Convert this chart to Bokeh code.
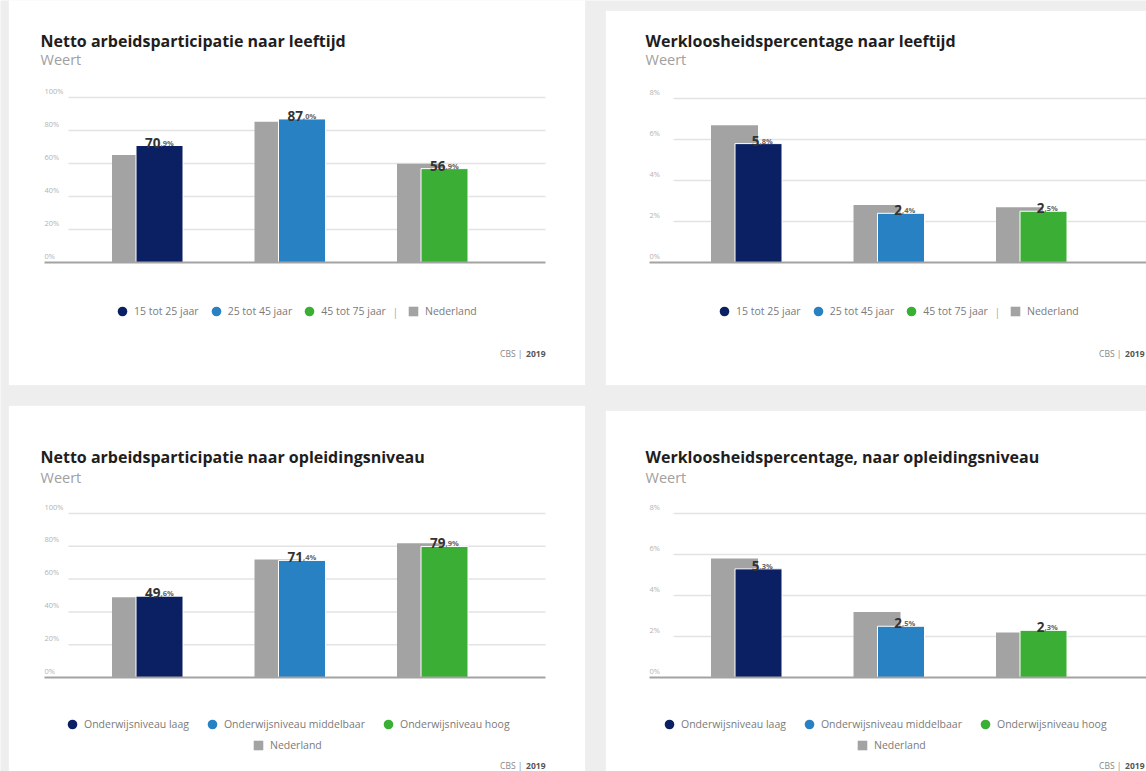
from bokeh.plotting import figure
from bokeh.models import (Range1d, Label, Legend, LegendItem, BoxAnnotation, ColumnDataSource)
from bokeh.embed import file_html
from bokeh.resources import INLINE
from bokeh.core.properties import value

# ---------------- data ----------------
age_groups = ["15 tot 25 jaar", "25 tot 45 jaar", "45 tot 75 jaar"]
edu_levels = ["Onderwijsniveau laag", "Onderwijsniveau middelbaar", "Onderwijsniveau hoog"]

part_age_weert = [70.9, 87.0, 56.9]
part_age_nl = [65.2, 85.3, 59.8]
unemp_age_weert = [5.8, 2.4, 2.5]
unemp_age_nl = [6.7, 2.8, 2.7]
part_edu_weert = [49.6, 71.4, 79.9]
part_edu_nl = [49.0, 72.0, 81.8]
unemp_edu_weert = [5.3, 2.5, 2.3]
unemp_edu_nl = [5.8, 3.2, 2.2]

part_ticks = [0, 20, 40, 60, 80, 100]
unemp_ticks = [0, 2, 4, 6, 8]

titles = ["Netto arbeidsparticipatie naar leeftijd",
          "Werkloosheidspercentage naar leeftijd",
          "Netto arbeidsparticipatie naar opleidingsniveau",
          "Werkloosheidspercentage, naar opleidingsniveau"]
region = "Weert"
credit_left = "CBS |"
credit_year = "2019"
nl_label = "Nederland"

# ---------------- styles / layout ----------------
series_colors = ["#0b2062", "#2781c3", "#3aae35"]
nl_color = "#a3a3a3"
FONT = "Open Sans"
W, H = 1146, 771
S = 142.5          # pixels between category groups
OFF = 12 / S       # offset of the two bars in a group
BW = 47 / S        # bar width

p = figure(width=W, height=H, x_range=Range1d(0, W), y_range=Range1d(0, H),
           x_axis_location=None, y_axis_location=None, min_border=0,
           toolbar_location=None, output_backend="svg", title=None,
           outline_line_color=None, background_fill_color="#eeeeee",
           border_fill_color="#eeeeee")
p.grid.visible = False

# cards (page coords: left, right, top, bottom)
for (l, r, t, b) in [(8, 585, -5, 385), (605, 1160, 10, 385), (8, 585, 405, 780), (605, 1160, 410, 780)]:
    p.add_layout(BoxAnnotation(left=l, right=r, top=H - t, bottom=H - b, fill_color="white",
                               fill_alpha=1, line_color="#e0e0e0", line_width=1, level="underlay"))

p.extra_x_ranges = {"left": Range1d(-147 / S, (W - 147) / S),
                    "right": Range1d(-746 / S, (W - 746) / S)}
G0 = {"left": 147, "right": 746}


def chart(key, xr, B, T, ticks, cats, weert, nl, title, tx, ty, sy, lab_x, grid_l, grid_r,
          credit_r, credit_y, legA, spacing, sep, legB):
    M = ticks[-1]
    p.extra_y_ranges[key] = Range1d((B - H) / (B - T) * M, B / (B - T) * M)
    g0 = G0[xr]

    def xd(px):
        return (px - g0) / S

    kw = dict(x_range_name=xr, y_range_name=key)
    # grid
    n = len(ticks) - 1
    p.segment(x0=[xd(grid_l)] * n, x1=[xd(grid_r)] * n, y0=ticks[1:], y1=ticks[1:],
              line_color="#e3e3e3", line_width=1.5, **kw)
    # tick labels
    p.text(x=[xd(lab_x)] * len(ticks), y=ticks, text=[f"{t}%" for t in ticks],
           text_align="left", text_baseline="bottom", y_offset=-2, text_font=value(FONT),
           text_font_size="7.5px", text_color="#b3b3b3", **kw)

    idx = list(range(len(cats)))
    gx = [i - OFF for i in idx]
    cx = [i + OFF for i in idx]
    gsrc = ColumnDataSource(dict(x=gx, top=nl))
    p.vbar(x="x", top="top", width=BW, source=gsrc, fill_color=nl_color, line_color=None, **kw)
    csrc = ColumnDataSource(dict(x=cx, top=weert, c=series_colors,
                                 ip=[f"{v:.1f}".split(".")[0] for v in weert],
                                 dp=["," + f"{v:.1f}".split(".")[1] + "%" for v in weert]))
    p.vbar(x="x", top="top", width=BW, source=csrc, fill_color="c", line_color="white",
           line_width=1, **kw)
    # baseline
    p.segment(x0=[xd(lab_x)], x1=[xd(grid_r)], y0=[ticks[0]], y1=[ticks[0]],
              line_color="#a3a3a3", line_width=2, **kw)
    # value labels
    p.text(x="x", y="top", text="ip", source=csrc, text_align="right",
           text_baseline="alphabetic", x_offset=1, y_offset=-3, text_font=value(FONT),
           text_font_style="bold", text_font_size="13.5px", text_color="#333333", **kw)
    p.text(x="x", y="top", text="dp", source=csrc, text_align="left",
           text_baseline="alphabetic", x_offset=1, y_offset=-3, text_font=value(FONT),
           text_font_style="bold", text_font_size="7.5px", text_color="#666666", **kw)

    # title / subtitle / credit
    p.add_layout(Label(x=tx, y=H - ty, text=title, text_font=FONT, text_font_style="bold",
                       text_font_size="16px", text_color="#1e1e1e", text_baseline="middle"))
    p.add_layout(Label(x=tx, y=H - sy, text=region, text_font=FONT, text_font_size="14.5px",
                       text_color="#a0a0a0", text_baseline="middle"))
    p.add_layout(Label(x=credit_r, y=H - credit_y, text=credit_year, text_font=FONT,
                       text_font_style="bold", text_font_size="8.5px", text_color="#555555",
                       text_align="right", text_baseline="middle"))
    p.add_layout(Label(x=credit_r - 23, y=H - credit_y, text=credit_left, text_font=FONT,
                       text_font_size="8.5px", text_color="#888888", text_align="right",
                       text_baseline="middle"))

    # legends: markers use the series' own data points, drawn with size 0 in the plot
    leg_kw = dict(orientation="horizontal", glyph_width=24, glyph_height=24, label_standoff=-2,
                  padding=0, margin=0, label_text_font_size="10.5px",
                  label_text_color="#7a7a7a", label_text_font=FONT, border_line_color=None,
                  background_fill_alpha=0)
    items = []
    for i, (c, col) in enumerate(zip(cats, series_colors)):
        r = p.scatter(x=[cx[i]], y=[weert[i]], marker="circle", size=0, fill_color=col,
                      line_alpha=0, **kw)
        items.append(LegendItem(label=value(c), renderers=[r]))
    rn = p.scatter(x=gx, y=nl, marker="square", size=0, fill_color=nl_color, line_alpha=0, **kw)
    p.add_layout(Legend(items=items, location=legA, spacing=spacing, **leg_kw))
    p.add_layout(Legend(items=[LegendItem(label=value(nl_label), renderers=[rn])],
                        location=legB, spacing=spacing, **leg_kw))
    if sep is not None:
        p.add_layout(Label(x=sep[0], y=H - sep[1], text="|", text_font=FONT,
                           text_font_size="10.5px", text_color="#aaaaaa", text_align="center",
                           text_baseline="middle"))


chart("tl", "left", 262, 97, part_ticks, age_groups, part_age_weert, part_age_nl, titles[0],
      40, 40, 59, 44, 68, 545, 545, 353, (110, 448), 5, (395, 311), (401, 448))
chart("tr", "right", 262, 98, unemp_ticks, age_groups, unemp_age_weert, unemp_age_nl, titles[1],
      645, 40, 59, 649, 673, 1146, 1144, 353, (712, 448), 5, (997, 311), (1003, 448))
chart("bl", "left", 677, 513, part_ticks, edu_levels, part_edu_weert, part_edu_nl, titles[2],
      40, 456, 477, 44, 68, 545, 545, 765, (60, 35), 11, None, (246, 14))
chart("br", "right", 677, 513, unemp_ticks, edu_levels, unemp_edu_weert, unemp_edu_nl, titles[3],
      645, 456, 477, 649, 673, 1146, 1144, 765, (657, 35), 11, None, (850, 14))

open("out.html", "w").write(file_html(p, INLINE))
